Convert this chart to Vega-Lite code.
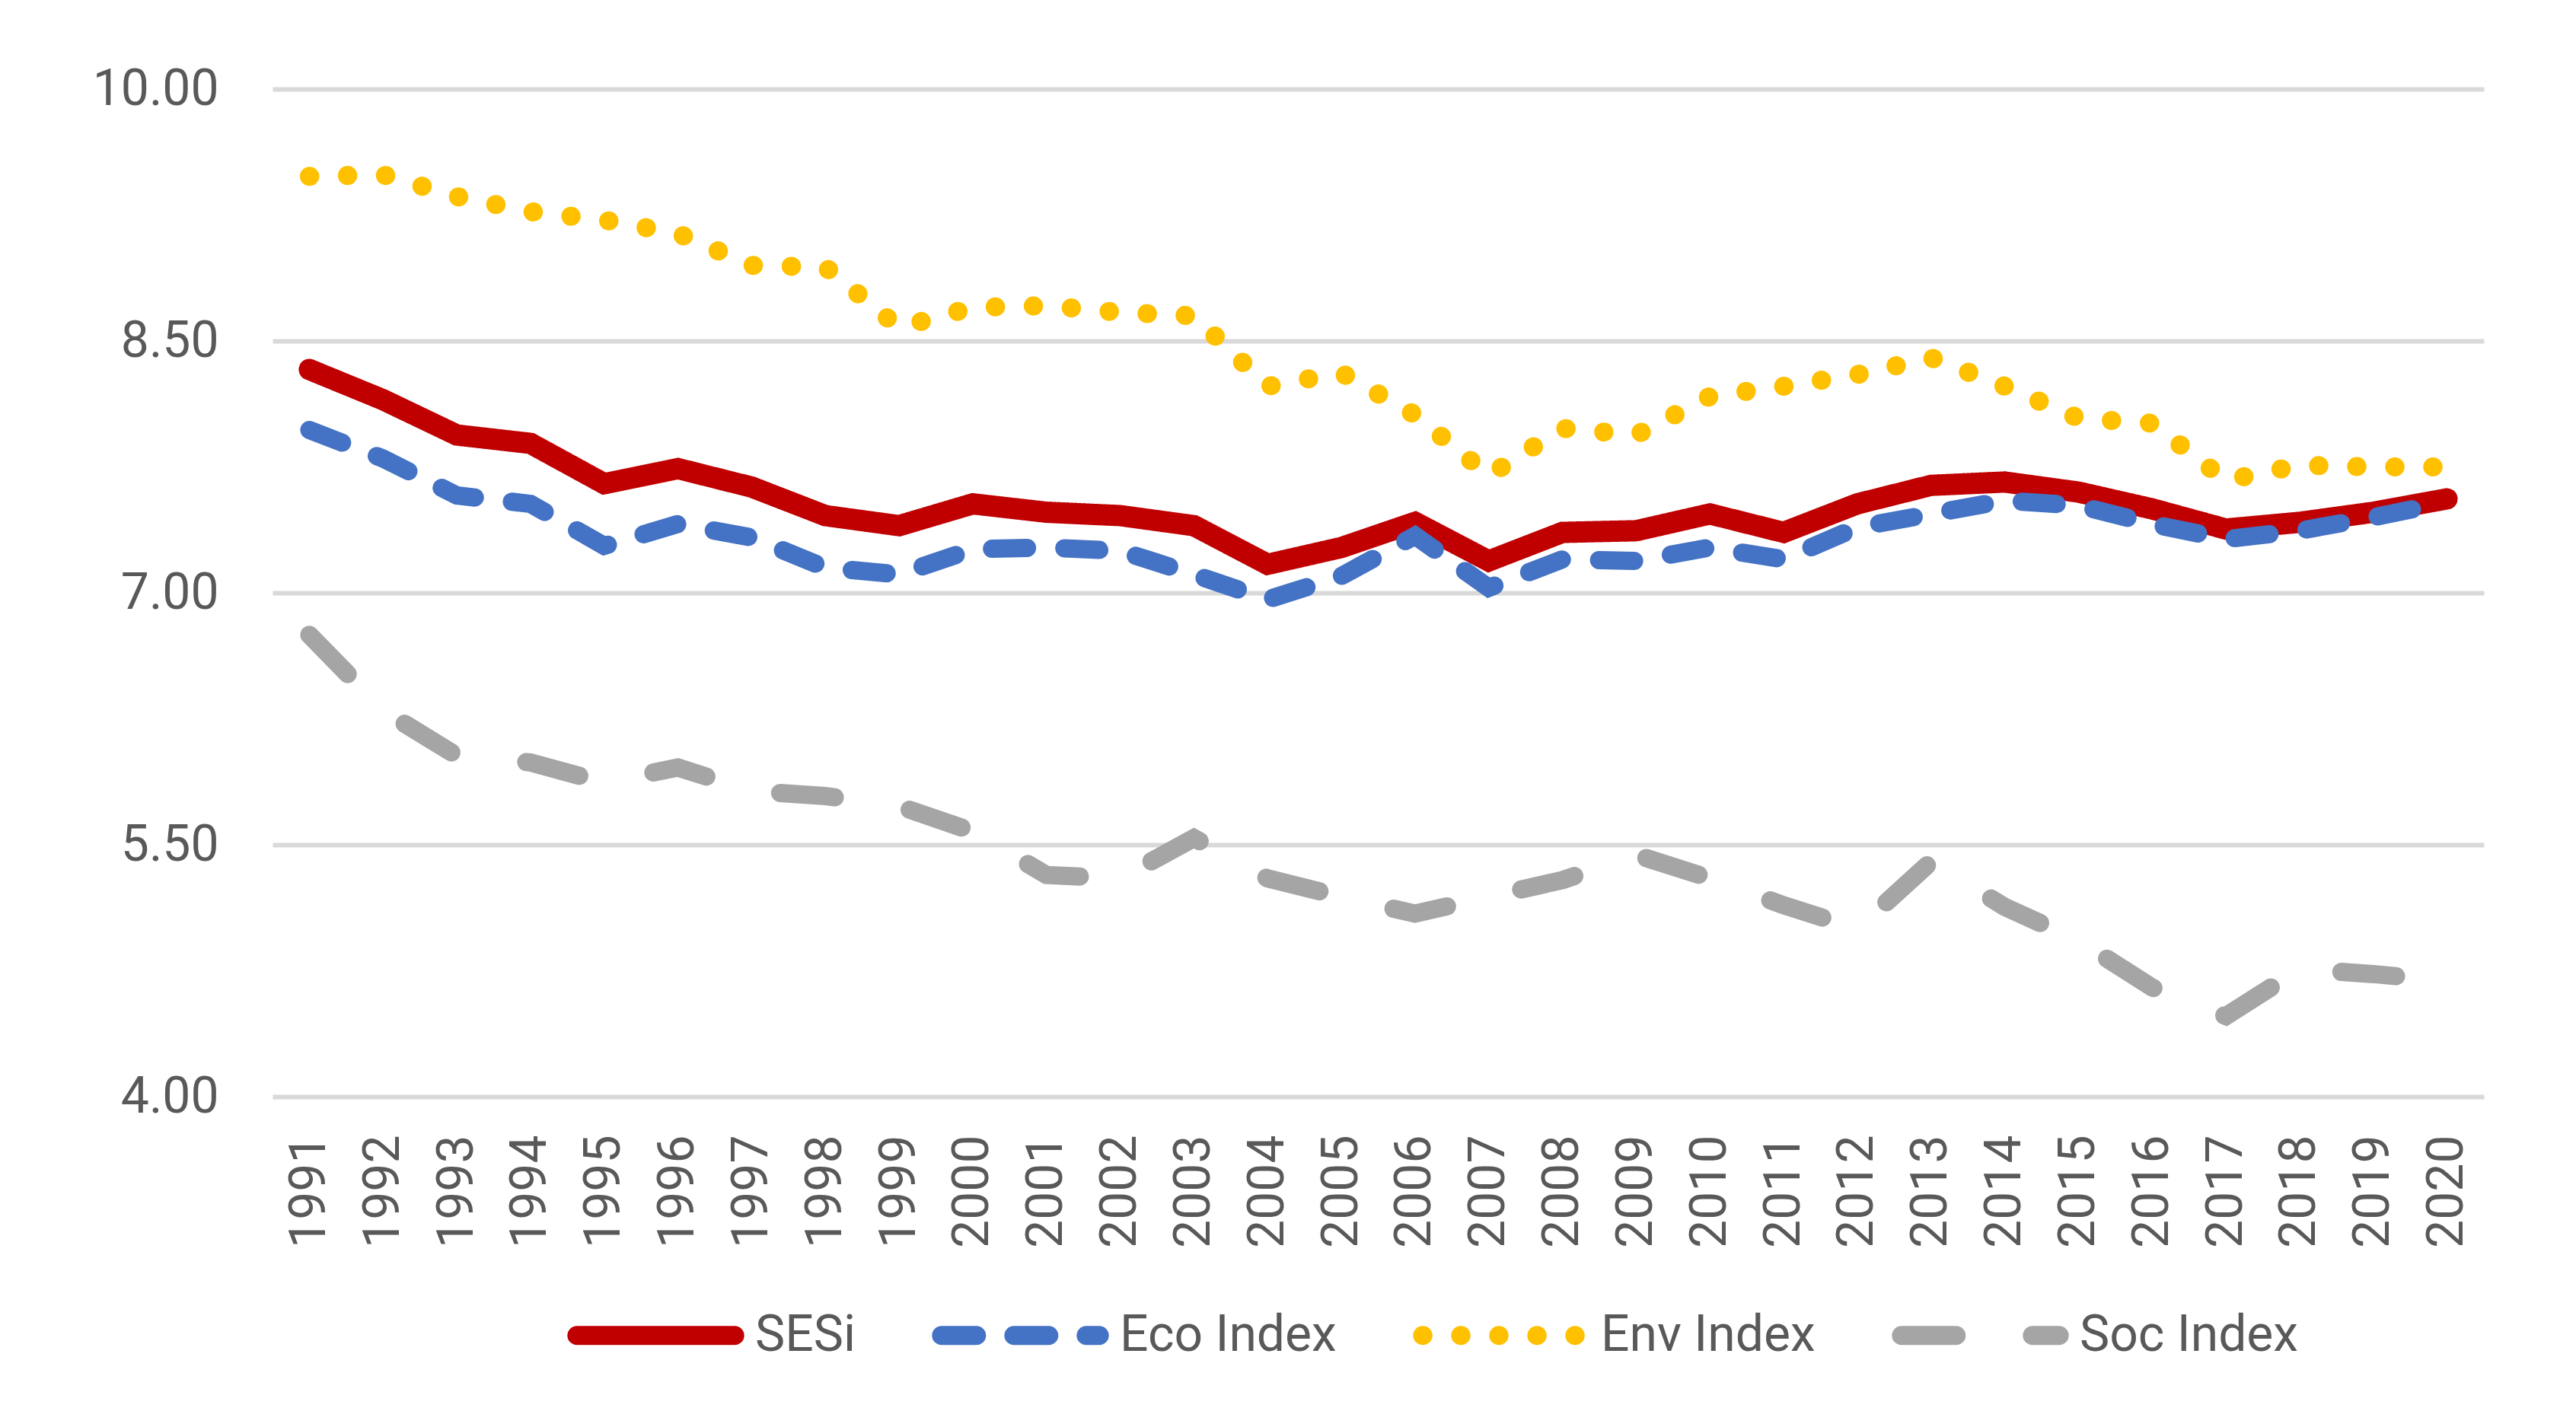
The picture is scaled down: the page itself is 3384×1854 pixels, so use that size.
{
  "$schema": "https://vega.github.io/schema/vega-lite/v6.json",
  "width": 2905,
  "height": 1324,
  "autosize": {"type": "none"},
  "padding": {"left": 358, "top": 117, "right": 121, "bottom": 413},
  "background": "white",
  "config": {
    "view": {"stroke": null},
    "font": "Roboto"
  },
  "datasets": {
    "d": [
      {"year": 1991, "series": "SESi", "value": 8.33},
      {"year": 1992, "series": "SESi", "value": 8.15},
      {"year": 1993, "series": "SESi", "value": 7.94},
      {"year": 1994, "series": "SESi", "value": 7.89},
      {"year": 1995, "series": "SESi", "value": 7.65},
      {"year": 1996, "series": "SESi", "value": 7.74},
      {"year": 1997, "series": "SESi", "value": 7.63},
      {"year": 1998, "series": "SESi", "value": 7.46},
      {"year": 1999, "series": "SESi", "value": 7.40},
      {"year": 2000, "series": "SESi", "value": 7.53},
      {"year": 2001, "series": "SESi", "value": 7.48},
      {"year": 2002, "series": "SESi", "value": 7.46},
      {"year": 2003, "series": "SESi", "value": 7.40},
      {"year": 2004, "series": "SESi", "value": 7.17},
      {"year": 2005, "series": "SESi", "value": 7.27},
      {"year": 2006, "series": "SESi", "value": 7.42},
      {"year": 2007, "series": "SESi", "value": 7.19},
      {"year": 2008, "series": "SESi", "value": 7.36},
      {"year": 2009, "series": "SESi", "value": 7.37},
      {"year": 2010, "series": "SESi", "value": 7.47},
      {"year": 2011, "series": "SESi", "value": 7.36},
      {"year": 2012, "series": "SESi", "value": 7.53},
      {"year": 2013, "series": "SESi", "value": 7.64},
      {"year": 2014, "series": "SESi", "value": 7.66},
      {"year": 2015, "series": "SESi", "value": 7.60},
      {"year": 2016, "series": "SESi", "value": 7.50},
      {"year": 2017, "series": "SESi", "value": 7.38},
      {"year": 2018, "series": "SESi", "value": 7.42},
      {"year": 2019, "series": "SESi", "value": 7.48},
      {"year": 2020, "series": "SESi", "value": 7.56},
      {"year": 1991, "series": "Eco Index", "value": 7.97},
      {"year": 1992, "series": "Eco Index", "value": 7.80},
      {"year": 1993, "series": "Eco Index", "value": 7.58},
      {"year": 1994, "series": "Eco Index", "value": 7.53},
      {"year": 1995, "series": "Eco Index", "value": 7.28},
      {"year": 1996, "series": "Eco Index", "value": 7.41},
      {"year": 1997, "series": "Eco Index", "value": 7.33},
      {"year": 1998, "series": "Eco Index", "value": 7.15},
      {"year": 1999, "series": "Eco Index", "value": 7.11},
      {"year": 2000, "series": "Eco Index", "value": 7.26},
      {"year": 2001, "series": "Eco Index", "value": 7.27},
      {"year": 2002, "series": "Eco Index", "value": 7.25},
      {"year": 2003, "series": "Eco Index", "value": 7.11},
      {"year": 2004, "series": "Eco Index", "value": 6.96},
      {"year": 2005, "series": "Eco Index", "value": 7.10},
      {"year": 2006, "series": "Eco Index", "value": 7.34},
      {"year": 2007, "series": "Eco Index", "value": 7.03},
      {"year": 2008, "series": "Eco Index", "value": 7.20},
      {"year": 2009, "series": "Eco Index", "value": 7.19},
      {"year": 2010, "series": "Eco Index", "value": 7.27},
      {"year": 2011, "series": "Eco Index", "value": 7.20},
      {"year": 2012, "series": "Eco Index", "value": 7.39},
      {"year": 2013, "series": "Eco Index", "value": 7.47},
      {"year": 2014, "series": "Eco Index", "value": 7.55},
      {"year": 2015, "series": "Eco Index", "value": 7.52},
      {"year": 2016, "series": "Eco Index", "value": 7.41},
      {"year": 2017, "series": "Eco Index", "value": 7.32},
      {"year": 2018, "series": "Eco Index", "value": 7.37},
      {"year": 2019, "series": "Eco Index", "value": 7.45},
      {"year": 2020, "series": "Eco Index", "value": 7.54},
      {"year": 1991, "series": "Env Index", "value": 9.48},
      {"year": 1992, "series": "Env Index", "value": 9.49},
      {"year": 1993, "series": "Env Index", "value": 9.36},
      {"year": 1994, "series": "Env Index", "value": 9.27},
      {"year": 1995, "series": "Env Index", "value": 9.22},
      {"year": 1996, "series": "Env Index", "value": 9.14},
      {"year": 1997, "series": "Env Index", "value": 8.95},
      {"year": 1998, "series": "Env Index", "value": 8.94},
      {"year": 1999, "series": "Env Index", "value": 8.58},
      {"year": 2000, "series": "Env Index", "value": 8.70},
      {"year": 2001, "series": "Env Index", "value": 8.71},
      {"year": 2002, "series": "Env Index", "value": 8.67},
      {"year": 2003, "series": "Env Index", "value": 8.65},
      {"year": 2004, "series": "Env Index", "value": 8.23},
      {"year": 2005, "series": "Env Index", "value": 8.31},
      {"year": 2006, "series": "Env Index", "value": 8.06},
      {"year": 2007, "series": "Env Index", "value": 7.70},
      {"year": 2008, "series": "Env Index", "value": 7.98},
      {"year": 2009, "series": "Env Index", "value": 7.94},
      {"year": 2010, "series": "Env Index", "value": 8.17},
      {"year": 2011, "series": "Env Index", "value": 8.23},
      {"year": 2012, "series": "Env Index", "value": 8.30},
      {"year": 2013, "series": "Env Index", "value": 8.40},
      {"year": 2014, "series": "Env Index", "value": 8.23},
      {"year": 2015, "series": "Env Index", "value": 8.04},
      {"year": 2016, "series": "Env Index", "value": 8.01},
      {"year": 2017, "series": "Env Index", "value": 7.67},
      {"year": 2018, "series": "Env Index", "value": 7.76},
      {"year": 2019, "series": "Env Index", "value": 7.75},
      {"year": 2020, "series": "Env Index", "value": 7.75},
      {"year": 1991, "series": "Soc Index", "value": 6.75},
      {"year": 1992, "series": "Soc Index", "value": 6.30},
      {"year": 1993, "series": "Soc Index", "value": 6.03},
      {"year": 1994, "series": "Soc Index", "value": 5.99},
      {"year": 1995, "series": "Soc Index", "value": 5.87},
      {"year": 1996, "series": "Soc Index", "value": 5.96},
      {"year": 1997, "series": "Soc Index", "value": 5.82},
      {"year": 1998, "series": "Soc Index", "value": 5.79},
      {"year": 1999, "series": "Soc Index", "value": 5.73},
      {"year": 2000, "series": "Soc Index", "value": 5.58},
      {"year": 2001, "series": "Soc Index", "value": 5.32},
      {"year": 2002, "series": "Soc Index", "value": 5.30},
      {"year": 2003, "series": "Soc Index", "value": 5.54},
      {"year": 2004, "series": "Soc Index", "value": 5.30},
      {"year": 2005, "series": "Soc Index", "value": 5.19},
      {"year": 2006, "series": "Soc Index", "value": 5.09},
      {"year": 2007, "series": "Soc Index", "value": 5.19},
      {"year": 2008, "series": "Soc Index", "value": 5.29},
      {"year": 2009, "series": "Soc Index", "value": 5.44},
      {"year": 2010, "series": "Soc Index", "value": 5.30},
      {"year": 2011, "series": "Soc Index", "value": 5.14},
      {"year": 2012, "series": "Soc Index", "value": 5.00},
      {"year": 2013, "series": "Soc Index", "value": 5.40},
      {"year": 2014, "series": "Soc Index", "value": 5.13},
      {"year": 2015, "series": "Soc Index", "value": 4.93},
      {"year": 2016, "series": "Soc Index", "value": 4.65},
      {"year": 2017, "series": "Soc Index", "value": 4.48},
      {"year": 2018, "series": "Soc Index", "value": 4.76},
      {"year": 2019, "series": "Soc Index", "value": 4.73},
      {"year": 2020, "series": "Soc Index", "value": 4.69}
    ]
  },
  "data": {"name": "d"},
  "encoding": {
    "x": {
      "field": "year", "type": "ordinal",
      "scale": {"type": "point", "padding": 0.5},
      "axis": {
        "title": null, "domain": false, "ticks": false, "grid": false,
        "labelAngle": -90, "labelPadding": 50, "labelOverlap": false,
        "labelFont": "Roboto", "labelFontSize": 66, "labelColor": "#595959"
      }
    },
    "y": {
      "field": "value", "type": "quantitative",
      "scale": {"domain": [4, 10], "nice": false, "zero": false},
      "axis": {
        "title": null, "domain": false, "ticks": false,
        "values": [4, 5.5, 7, 8.5, 10], "format": ".2f",
        "grid": true, "gridColor": "#D9D9D9", "gridWidth": 6,
        "labelPadding": 71, "labelFont": "Roboto", "labelFontSize": 66, "labelColor": "#595959"
      }
    },
    "color": {
      "field": "series", "type": "nominal",
      "scale": {"domain": ["SESi", "Eco Index", "Env Index", "Soc Index"], "range": ["#C00000", "#4472C4", "#FFC000", "#A5A5A5"]},
      "legend": {
        "title": null, "orient": "none", "legendX": 387, "legendY": 1521, "direction": "horizontal",
        "symbolType": "stroke", "symbolSize": 43000, "symbolStrokeWidth": 25,
        "labelFont": "Roboto", "labelFontSize": 66, "labelColor": "#595959", "labelLimit": 0,
        "labelOffset": 14, "columnPadding": 62,
        "encode": {"symbols": {"update": {"strokeCap": {"value": "round"}}}}
      }
    },
    "strokeDash": {
      "field": "series", "type": "nominal",
      "scale": {"domain": ["SESi", "Eco Index", "Env Index", "Soc Index"], "range": [[1, 0], [46, 49], [0.5, 49.5], [72, 100]]},
      "legend": {
        "title": null, "orient": "none", "legendX": 387, "legendY": 1521, "direction": "horizontal",
        "symbolType": "stroke", "symbolSize": 43000, "symbolStrokeWidth": 25,
        "labelFont": "Roboto", "labelFontSize": 66, "labelColor": "#595959", "labelLimit": 0,
        "labelOffset": 14, "columnPadding": 62,
        "encode": {"symbols": {"update": {"strokeCap": {"value": "round"}}}}
      }
    }
  },
  "layer": [
    {"transform": [{"filter": "datum.series === 'SESi'"}], "mark": {"type": "line", "strokeWidth": 28, "strokeCap": "round"}},
    {"transform": [{"filter": "datum.series === 'Eco Index'"}], "mark": {"type": "line", "strokeWidth": 24, "strokeCap": "round"}},
    {"transform": [{"filter": "datum.series === 'Env Index'"}], "mark": {"type": "line", "strokeWidth": 25, "strokeCap": "round"}},
    {"transform": [{"filter": "datum.series === 'Soc Index'"}], "mark": {"type": "line", "strokeWidth": 24, "strokeCap": "round"}}
  ]
}
